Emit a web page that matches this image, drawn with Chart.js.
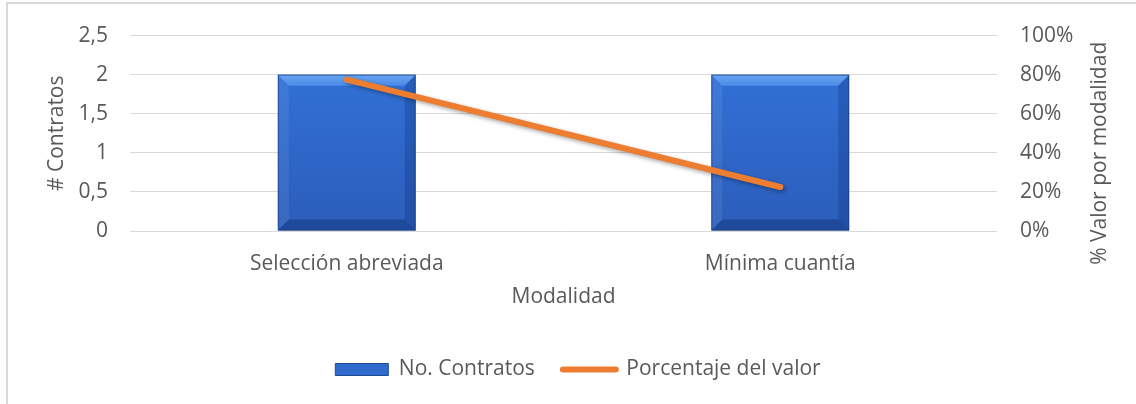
<!DOCTYPE html>
<html>
<head>
<meta charset="utf-8">
<script src="https://cdn.jsdelivr.net/npm/chart.js@4.4.0/dist/chart.umd.min.js"></script>
<style>
  html, body { margin: 0; padding: 0; background: #fff; }
  #wrap { width: 1136px; height: 404px; position: relative; }
</style>
</head>
<body>
<div id="wrap"><canvas id="chart"></canvas></div>
<script>
// data
var categories = ['Selección abreviada', 'Mínima cuantía'];
var contratos = [2, 2];
var porcentajes = [77.5, 22.5];
var leftMax = 2.5, leftStep = 0.5;
var rightMax = 100, rightStep = 20;
var labelsSeries = ['No. Contratos', 'Porcentaje del valor'];
var axisTitles = ['# Contratos', 'Modalidad', '% Valor por modalidad'];

Chart.defaults.font.family = "'Open Sans', sans-serif";
Chart.defaults.font.size = 21;
Chart.defaults.color = '#595959';

// light frame round the chart (only left/top edges show in the reference)
var framePlugin = {
  id: 'frame',
  beforeDraw: function (chart) {
    var ctx = chart.ctx;
    ctx.save();
    ctx.strokeStyle = '#d9d9d9';
    ctx.lineWidth = 2;
    ctx.beginPath();
    ctx.moveTo(7, chart.height + 5);
    ctx.lineTo(7, 3);
    ctx.lineTo(chart.width + 5, 3);
    ctx.stroke();
    ctx.restore();
  },
  afterLayout: function (chart) {
    // legend sits a bit right of centre in the reference
    if (chart.legend) chart.legend.left += 20;
  }
};

// bevel look of the office-style bars + shadow on the line
var stylePlugin = {
  id: 'barStyle',
  beforeDatasetDraw: function (chart, args) {
    if (args.index === 1) {
      var ctx = chart.ctx;
      ctx.save();
      ctx.shadowColor = 'rgba(0,0,0,0.35)';
      ctx.shadowBlur = 4;
      ctx.shadowOffsetX = 2;
      ctx.shadowOffsetY = 2;
    }
  },
  afterDatasetDraw: function (chart, args) {
    var ctx = chart.ctx;
    if (args.index === 1) {
      ctx.restore();
      return;
    }
    if (args.index !== 0) return;
    var meta = chart.getDatasetMeta(0);
    meta.data.forEach(function (el) {
      var p = el.getProps(['x', 'y', 'base', 'width'], true);
      var l = p.x - p.width / 2, r = p.x + p.width / 2, t = p.y, b = p.base;
      var s = 11;
      ctx.save();
      // top
      var g = ctx.createLinearGradient(0, t, 0, t + s);
      g.addColorStop(0, '#6aa6f4');
      g.addColorStop(1, '#4b8ae6');
      ctx.fillStyle = g;
      ctx.beginPath();
      ctx.moveTo(l, t); ctx.lineTo(r, t); ctx.lineTo(r - s, t + s); ctx.lineTo(l + s, t + s);
      ctx.closePath(); ctx.fill();
      // left
      ctx.fillStyle = 'rgba(255,255,255,0.07)';
      ctx.beginPath();
      ctx.moveTo(l, t); ctx.lineTo(l + s, t + s); ctx.lineTo(l + s, b - s); ctx.lineTo(l, b);
      ctx.closePath(); ctx.fill();
      // right
      ctx.fillStyle = 'rgba(0,25,80,0.2)';
      ctx.beginPath();
      ctx.moveTo(r, t); ctx.lineTo(r, b); ctx.lineTo(r - s, b - s); ctx.lineTo(r - s, t + s);
      ctx.closePath(); ctx.fill();
      // bottom
      ctx.fillStyle = 'rgba(0,25,80,0.3)';
      ctx.beginPath();
      ctx.moveTo(l, b); ctx.lineTo(r, b); ctx.lineTo(r - s, b - s); ctx.lineTo(l + s, b - s);
      ctx.closePath(); ctx.fill();
      ctx.strokeStyle = 'rgba(25,60,130,0.7)';
      ctx.lineWidth = 1;
      ctx.strokeRect(l + 0.5, t + 0.5, p.width - 1, b - t - 1);
      ctx.restore();
    });
  }
};

// right axis title reads bottom-to-top, chart.js would rotate it the other way
var rightTitlePlugin = {
  id: 'rightTitle',
  afterDraw: function (chart) {
    var ctx = chart.ctx;
    var area = chart.chartArea;
    ctx.save();
    ctx.translate(1100, (area.top + area.bottom) / 2 + 20);
    ctx.rotate(-Math.PI / 2);
    ctx.textAlign = 'center';
    ctx.textBaseline = 'middle';
    ctx.fillStyle = '#595959';
    ctx.font = "21px 'Open Sans', sans-serif";
    ctx.fillText(axisTitles[2], 0, 0);
    ctx.restore();
  }
};

var ctx = document.getElementById('chart').getContext('2d');
var chart = new Chart(ctx, {
  data: {
    labels: categories,
    datasets: [{
      type: 'bar',
      label: labelsSeries[0],
      data: contratos,
      yAxisID: 'y',
      order: 1,
      categoryPercentage: 1,
      barPercentage: 0.318,
      backgroundColor: function (c) {
        var area = c.chart.chartArea;
        if (!area) return '#2f6bd0';
        var g = c.chart.ctx.createLinearGradient(0, area.top, 0, area.bottom);
        g.addColorStop(0, '#3375dc');
        g.addColorStop(1, '#2b5dbb');
        return g;
      }
    }, {
      type: 'line',
      label: labelsSeries[1],
      data: porcentajes,
      yAxisID: 'y1',
      order: 0,
      borderColor: '#ED7D31',
      backgroundColor: '#ED7D31',
      borderWidth: 6,
      borderCapStyle: 'round',
      pointRadius: 0,
      pointHoverRadius: 0,
      tension: 0
    }]
  },
  options: {
    responsive: true,
    maintainAspectRatio: false,
    animation: false,
    layout: { padding: { top: 32, left: 0, right: 0, bottom: 14 } },
    plugins: {
      tooltip: { enabled: false },
      legend: {
        position: 'bottom',
        labels: {
          usePointStyle: true,
          pointStyleWidth: 53,
          boxHeight: 12,
          padding: 28,
          color: '#595959',
          sort: function (a, b) { return a.datasetIndex - b.datasetIndex; },
          generateLabels: function (chart) {
            var items = Chart.defaults.plugins.legend.labels.generateLabels(chart);
            items.forEach(function (it) {
              if (it.datasetIndex === 0) {
                it.pointStyle = 'rect';
                it.fillStyle = '#2f6acc';
                it.strokeStyle = '#1d4a94';
                it.lineWidth = 1;
              } else {
                it.pointStyle = 'line';
                it.strokeStyle = '#ED7D31';
                it.lineWidth = 6;
                it.lineCap = 'round';
              }
            });
            return items;
          }
        }
      }
    },
    scales: {
      x: {
        grid: { display: false, drawTicks: false },
        border: { display: false },
        ticks: { padding: 20, maxRotation: 0 },
        title: { display: true, text: axisTitles[1], padding: { top: 0, bottom: 21 } },
        afterFit: function (s) { s.height = 100; }
      },
      y: {
        position: 'left',
        min: 0,
        max: leftMax,
        grid: { color: '#d9d9d9', lineWidth: 1, drawTicks: false },
        border: { display: false },
        ticks: {
          stepSize: leftStep,
          padding: 22,
          callback: function (v) { return String(v).replace('.', ','); }
        },
        title: { display: true, text: axisTitles[0], padding: { top: 44, bottom: 0 } },
        afterFit: function (s) { s.width = 130; }
      },
      y1: {
        position: 'right',
        min: 0,
        max: rightMax,
        grid: { display: false, drawTicks: false },
        border: { display: false },
        ticks: {
          stepSize: rightStep,
          padding: 23,
          callback: function (v) { return v + '%'; }
        },
        afterFit: function (s) { s.width = 139; }
      }
    }
  },
  plugins: [framePlugin, stylePlugin, rightTitlePlugin]
});
</script>
</body>
</html>
